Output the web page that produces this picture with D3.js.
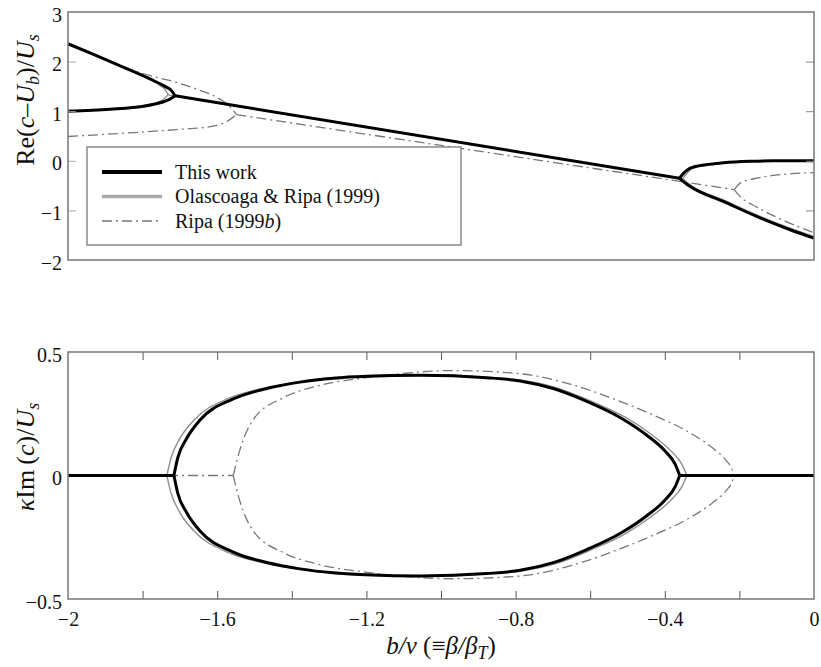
<!DOCTYPE html>
<html>
<head>
<meta charset="utf-8">
<script src="https://cdn.jsdelivr.net/npm/d3@7"></script>
<style>
  body { margin: 0; background: #fff; }
  text { font-family: "Liberation Serif", "Times New Roman", serif; fill: #111; }
</style>
</head>
<body>
<div id="chart"></div>
<script>
/* ticks */
const xTickLabels = [-2, -1.6, -1.2, -0.8, -0.4, 0];
const xTickMarks = [-1.8, -1.6, -1.4, -1.2, -1.0, -0.8, -0.6, -0.4, -0.2];
const reTicks = [-2, -1, 0, 1, 2, 3];
const reInnerTicks = [-1, 0, 1, 2];
const imTicks = [-0.5, 0, 0.5];

/* top panel: Re(c - Ub)/Us */
const workReLeftUpper = [[-2, 2.36], [-1.93, 2.14], [-1.843, 1.86], [-1.78, 1.65], [-1.74, 1.50], [-1.722, 1.41], [-1.713, 1.31]];
const workReLeftLower = [[-2, 1.0], [-1.887, 1.04], [-1.798, 1.10], [-1.753, 1.17], [-1.727, 1.24], [-1.713, 1.31]];
const workReMiddle = [[-1.713, 1.31], [-0.361, -0.35]];
const workReRightUpper = [[-0.361, -0.35], [-0.345, -0.22], [-0.332, -0.15], [-0.29, -0.08], [-0.243, -0.04], [-0.17, -0.01], [-0.109, 0.0], [0, 0.0]];
const workReRightLower = [[-0.361, -0.35], [-0.345, -0.45], [-0.332, -0.52], [-0.243, -0.82], [-0.154, -1.12], [-0.064, -1.39], [0, -1.56]];

const olasReLeftUpper = [[-2, 2.35], [-1.93, 2.13], [-1.843, 1.85], [-1.78, 1.64], [-1.75, 1.50], [-1.738, 1.42], [-1.732, 1.33]];
const olasReLeftLower = [[-2, 1.0], [-1.887, 1.04], [-1.80, 1.11], [-1.76, 1.18], [-1.742, 1.25], [-1.732, 1.33]];
const olasReMiddle = [[-1.732, 1.33], [-0.352, -0.362]];
const olasReRightUpper = [[-0.352, -0.362], [-0.338, -0.23], [-0.325, -0.15], [-0.243, -0.045], [-0.109, -0.003], [0, 0.0]];
const olasReRightLower = [[-0.352, -0.362], [-0.338, -0.45], [-0.325, -0.52], [-0.243, -0.79], [-0.154, -1.09], [-0.064, -1.36], [0, -1.53]];

const ripaReLeftUpper = [[-2, 2.36], [-1.9, 2.05], [-1.80, 1.76], [-1.709, 1.58], [-1.646, 1.42], [-1.601, 1.28], [-1.57, 1.12], [-1.548, 0.93]];
const ripaReLeftLower = [[-2, 0.49], [-1.843, 0.56], [-1.709, 0.63], [-1.619, 0.69], [-1.575, 0.79], [-1.557, 0.88], [-1.548, 0.93]];
const ripaReMiddle = [[-1.548, 0.93], [-0.214, -0.58]];
const ripaReRightUpper = [[-0.214, -0.58], [-0.205, -0.50], [-0.198, -0.45], [-0.154, -0.35], [-0.091, -0.28], [0, -0.24]];
const ripaReRightLower = [[-0.214, -0.58], [-0.198, -0.72], [-0.154, -0.93], [-0.091, -1.17], [0, -1.45]];

/* bottom panel: kappa Im(c)/Us */
const workImZeroLeft = [[-2, 0], [-1.716, 0]];
const workImZeroRight = [[-0.360, 0], [0, 0]];
const workImUpper = [[-1.716, 0], [-1.706, 0.07], [-1.682, 0.15], [-1.646, 0.225], [-1.557, 0.31], [-1.467, 0.352], [-1.378, 0.378], [-1.289, 0.394], [-1.199, 0.402], [-1.056, 0.406], [-0.878, 0.396], [-0.788, 0.383], [-0.699, 0.352], [-0.609, 0.30], [-0.52, 0.235], [-0.45, 0.165], [-0.40, 0.10], [-0.372, 0.045], [-0.360, 0]];
const workImLower = [[-1.716, 0], [-1.706, -0.07], [-1.682, -0.15], [-1.646, -0.225], [-1.557, -0.31], [-1.467, -0.352], [-1.378, -0.378], [-1.289, -0.394], [-1.199, -0.402], [-1.056, -0.407], [-0.878, -0.397], [-0.788, -0.384], [-0.699, -0.353], [-0.609, -0.30], [-0.52, -0.235], [-0.45, -0.165], [-0.40, -0.10], [-0.372, -0.045], [-0.360, 0]];

const olasImZeroLeft = [[-2, 0], [-1.735, 0]];
const olasImZeroRight = [[-0.341, 0], [0, 0]];
const olasImUpper = [[-1.735, 0], [-1.724, 0.07], [-1.70, 0.15], [-1.662, 0.225], [-1.57, 0.312], [-1.475, 0.354], [-1.38, 0.38], [-1.29, 0.396], [-1.199, 0.404], [-1.056, 0.408], [-0.878, 0.398], [-0.78, 0.385], [-0.69, 0.355], [-0.596, 0.30], [-0.505, 0.235], [-0.435, 0.165], [-0.384, 0.10], [-0.354, 0.045], [-0.341, 0]];
const olasImLower = [[-1.735, 0], [-1.724, -0.07], [-1.70, -0.15], [-1.662, -0.225], [-1.57, -0.312], [-1.475, -0.354], [-1.38, -0.38], [-1.29, -0.396], [-1.199, -0.404], [-1.056, -0.409], [-0.878, -0.399], [-0.78, -0.386], [-0.69, -0.356], [-0.596, -0.30], [-0.505, -0.235], [-0.435, -0.165], [-0.384, -0.10], [-0.354, -0.045], [-0.341, 0]];

const ripaImZeroLeft = [[-2, 0], [-1.557, 0]];
const ripaImZeroRight = [[-0.214, 0], [0, 0]];
const ripaImUpper = [[-1.557, 0], [-1.539, 0.105], [-1.503, 0.227], [-1.423, 0.315], [-1.333, 0.362], [-1.199, 0.396], [-1.128, 0.409], [-0.967, 0.425], [-0.788, 0.412], [-0.654, 0.37], [-0.52, 0.30], [-0.431, 0.245], [-0.341, 0.18], [-0.275, 0.115], [-0.235, 0.06], [-0.221, 0.03], [-0.214, 0]];
const ripaImLower = [[-1.557, 0], [-1.539, -0.105], [-1.503, -0.225], [-1.423, -0.312], [-1.333, -0.358], [-1.199, -0.392], [-1.128, -0.404], [-0.967, -0.418], [-0.788, -0.407], [-0.654, -0.366], [-0.52, -0.297], [-0.431, -0.242], [-0.341, -0.178], [-0.275, -0.114], [-0.235, -0.06], [-0.221, -0.03], [-0.214, 0]];

const legendLabels = ["This work", "Olascoaga & Ripa (1999)", "Ripa (1999b)"];

/* styles */
const styleWork = { stroke: "#000", width: 3, dash: null };
const styleOlas = { stroke: "#8f8f8f", width: 1.4, dash: null };
const styleRipa = { stroke: "#777", width: 1.3, dash: "10,4,2,4" };

const svg = d3.select("#chart").append("svg")
  .attr("width", 821).attr("height", 667);

const x = d3.scaleLinear().domain([-2, 0]).range([68, 814]);
const yRe = d3.scaleLinear().domain([-2, 3]).range([260, 12]);
const yIm = d3.scaleLinear().domain([-0.5, 0.5]).range([599, 352]);
const fmt = d3.format("");

function drawLines(g, yScale, list, st) {
  const line = d3.line().x(d => x(d[0])).y(d => yScale(d[1])).curve(d3.curveMonotoneX);
  g.selectAll(null).data(list).join("path")
    .attr("d", line)
    .attr("fill", "none")
    .attr("stroke", st.stroke)
    .attr("stroke-width", st.width)
    .attr("stroke-dasharray", st.dash)
    .attr("stroke-linejoin", "round");
}

/* ---- top panel ---- */
const topG = svg.append("g");
drawLines(topG, yRe, [ripaReLeftUpper, ripaReLeftLower, ripaReMiddle, ripaReRightUpper, ripaReRightLower], styleRipa);
drawLines(topG, yRe, [olasReLeftUpper, olasReLeftLower, olasReMiddle, olasReRightUpper, olasReRightLower], styleOlas);
drawLines(topG, yRe, [workReLeftUpper, workReLeftLower, workReMiddle, workReRightUpper, workReRightLower], styleWork);

// y axis labels + inner ticks
topG.append("g").attr("transform", `translate(${x(-2)},0)`)
  .call(d3.axisLeft(yRe).tickValues(reTicks).tickSize(0).tickPadding(6).tickFormat(fmt))
  .call(g => g.select(".domain").remove())
  .call(g => g.selectAll("text").attr("font-size", 20).attr("font-family", "Liberation Serif").attr("dy", "0.45em").attr("fill", "#111"));
topG.append("g").attr("transform", `translate(${x(-2)},0)`)
  .call(d3.axisRight(yRe).tickValues(reInnerTicks).tickSize(8).tickFormat(""))
  .call(g => g.select(".domain").remove())
  .call(g => g.selectAll("line").attr("stroke", "#aaa"));
topG.append("g").attr("transform", `translate(${x(0)},0)`)
  .call(d3.axisLeft(yRe).tickValues(reInnerTicks).tickSize(8).tickFormat(""))
  .call(g => g.select(".domain").remove())
  .call(g => g.selectAll("line").attr("stroke", "#888"));

topG.append("rect")
  .attr("x", x(-2)).attr("y", yRe(3))
  .attr("width", x(0) - x(-2)).attr("height", yRe(-2) - yRe(3))
  .attr("fill", "none").attr("stroke", "#777").attr("stroke-width", 1.5);

// legend
const leg = topG.append("g");
leg.append("rect").attr("x", 87).attr("y", 147).attr("width", 374).attr("height", 98)
  .attr("fill", "#fff").attr("stroke", "#777").attr("stroke-width", 1.3);
const legStyles = [
  { stroke: "#000", width: 4, dash: null },
  { stroke: "#aaa", width: 3.5, dash: null },
  { stroke: "#777", width: 1.3, dash: "10,4,2,4" }
];
legendLabels.forEach((lab, i) => {
  const yy = 172 + i * 24.5;
  leg.append("line").attr("x1", 102).attr("x2", 162).attr("y1", yy).attr("y2", yy)
    .attr("stroke", legStyles[i].stroke).attr("stroke-width", legStyles[i].width)
    .attr("stroke-dasharray", legStyles[i].dash);
  const t = leg.append("text").attr("x", 175).attr("y", yy + 6.5).attr("font-size", 20);
  if (i === 2) {
    t.append("tspan").text("Ripa (1999");
    t.append("tspan").attr("font-style", "italic").text("b");
    t.append("tspan").text(")");
  } else {
    t.text(lab);
  }
});

// top y label
const reLab = svg.append("text")
  .attr("transform", "translate(34,100) rotate(-90)")
  .attr("text-anchor", "middle").attr("font-size", 26);
reLab.append("tspan").text("Re(");
reLab.append("tspan").attr("font-style", "italic").text("c");
reLab.append("tspan").text("\u2013");
reLab.append("tspan").attr("font-style", "italic").text("U");
reLab.append("tspan").attr("font-style", "italic").attr("font-size", 18).attr("dy", 5).text("b");
reLab.append("tspan").attr("dy", -5).text(")/");
reLab.append("tspan").attr("font-style", "italic").text("U");
reLab.append("tspan").attr("font-style", "italic").attr("font-size", 18).attr("dy", 5).text("s");

/* ---- bottom panel ---- */
const botG = svg.append("g");
drawLines(botG, yIm, [ripaImZeroLeft, ripaImZeroRight, ripaImUpper, ripaImLower], styleRipa);
drawLines(botG, yIm, [olasImZeroLeft, olasImZeroRight, olasImUpper, olasImLower], styleOlas);
drawLines(botG, yIm, [workImZeroLeft, workImZeroRight, workImUpper, workImLower], styleWork);

botG.append("g").attr("transform", `translate(${x(-2)},0)`)
  .call(d3.axisLeft(yIm).tickValues(imTicks).tickSize(0).tickPadding(6).tickFormat(fmt))
  .call(g => g.select(".domain").remove())
  .call(g => g.selectAll("text").attr("font-size", 20).attr("font-family", "Liberation Serif").attr("dy", "0.45em").attr("fill", "#111"));
botG.append("g").attr("transform", `translate(0,${yIm(-0.5)})`)
  .call(d3.axisBottom(x).tickValues(xTickLabels).tickSize(0).tickPadding(13).tickFormat(fmt))
  .call(g => g.select(".domain").remove())
  .call(g => g.selectAll("text").attr("font-size", 20).attr("font-family", "Liberation Serif").attr("fill", "#111"));
botG.append("g").attr("transform", `translate(0,${yIm(-0.5)})`)
  .call(d3.axisTop(x).tickValues(xTickMarks).tickSize(8).tickFormat(""))
  .call(g => g.select(".domain").remove())
  .call(g => g.selectAll("line").attr("stroke", "#555"));
botG.append("g").attr("transform", `translate(0,${yIm(0.5)})`)
  .call(d3.axisBottom(x).tickValues(xTickMarks).tickSize(8).tickFormat(""))
  .call(g => g.select(".domain").remove())
  .call(g => g.selectAll("line").attr("stroke", "#555"));

botG.append("rect")
  .attr("x", x(-2)).attr("y", yIm(0.5))
  .attr("width", x(0) - x(-2)).attr("height", yIm(-0.5) - yIm(0.5))
  .attr("fill", "none").attr("stroke", "#777").attr("stroke-width", 1.5);

// bottom y label
const imLab = svg.append("text")
  .attr("transform", "translate(34,457) rotate(-90)")
  .attr("text-anchor", "middle").attr("font-size", 26);
imLab.append("tspan").attr("font-style", "italic").text("\u03BA");
imLab.append("tspan").text("Im\u2009(");
imLab.append("tspan").attr("font-style", "italic").text("c");
imLab.append("tspan").text(")/");
imLab.append("tspan").attr("font-style", "italic").text("U");
imLab.append("tspan").attr("font-style", "italic").attr("font-size", 18).attr("dy", 5).text("s");

// x label
const xLab = svg.append("text")
  .attr("x", 441).attr("y", 654)
  .attr("text-anchor", "middle").attr("font-size", 25);
xLab.append("tspan").attr("font-style", "italic").text("b/\u03BD");
xLab.append("tspan").text(" (\u2261");
xLab.append("tspan").attr("font-style", "italic").text("\u03B2/\u03B2");
xLab.append("tspan").attr("font-style", "italic").attr("font-size", 18).attr("dy", 5).text("T");
xLab.append("tspan").attr("dy", -5).text(")");
</script>
</body>
</html>
